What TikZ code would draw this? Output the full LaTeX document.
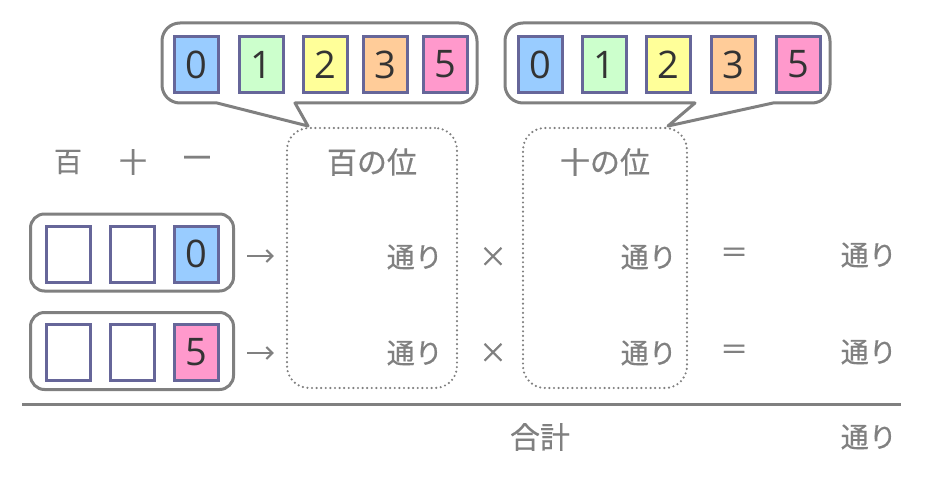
\documentclass[tikz,border=0pt]{standalone}
\usepackage{fontspec}
\newfontfamily\jp[FakeBold=0.6]{Noto Sans CJK JP}
\newfontfamily\dg{Open Sans}
\usetikzlibrary{arrows.meta}
\definecolor{gr}{HTML}{808080}
\definecolor{bd}{HTML}{666699}
\definecolor{cb}{HTML}{99CCFF}
\definecolor{cg}{HTML}{CCFFCC}
\definecolor{cy}{HTML}{FFFF99}
\definecolor{co}{HTML}{FFCC99}
\definecolor{cp}{HTML}{FF99CC}
\definecolor{dk}{HTML}{333333}
\tikzset{
 digbox/.style={draw=bd, line width=3pt, minimum width=44pt, minimum height=56pt, inner sep=0pt, font=\dg\fontsize{38}{38}\selectfont, text=dk},
 bub/.style={draw=gr, line width=3pt, fill=white, line join=round},
 rowbox/.style={draw=gr, line width=3pt, rounded corners=14pt, minimum width=203pt, minimum height=77pt, inner sep=0pt},
 dotbox/.style={draw=gr, line width=2.4pt, dash pattern=on 0pt off 4.6pt, line cap=round, rounded corners=22pt, minimum width=170pt, minimum height=260pt, inner sep=0pt},
 jtxt/.style={text=gr, font=\jp\fontsize{28}{28}\selectfont, inner sep=0pt},
 jbig/.style={jtxt, font=\jp\fontsize{30}{30}\selectfont},
 arr/.style={draw=gr, line width=2pt, -{Straight Barb[length=6pt,width=12pt]}}
}
\begin{document}
\begin{tikzpicture}[x=1pt,y=-1pt]
\useasboundingbox (0,0) rectangle (932,484);
% bubbles
\draw[bub] (295,103) -- (308,126) -- (217,103) -- (180,103)
  arc[start angle=90,end angle=180,radius=18] -- (162,41)
  arc[start angle=180,end angle=270,radius=18] -- (459,23)
  arc[start angle=270,end angle=360,radius=18] -- (477,85)
  arc[start angle=0,end angle=90,radius=18] -- cycle;
\draw[bub] (695,103) -- (668,126) -- (773,103) -- (812,103)
  arc[start angle=90,end angle=0,radius=18] -- (830,41)
  arc[start angle=0,end angle=-90,radius=18] -- (523,23)
  arc[start angle=270,end angle=180,radius=18] -- (505,85)
  arc[start angle=180,end angle=90,radius=18] -- cycle;
% digit squares, bubble 1
\node[digbox,fill=cb] (a0) at (196.5,64.5) {0};
\node[digbox,fill=cg] (a1) at (261,64.5) {1};
\node[digbox,fill=cy] (a2) at (325.5,64.5) {2};
\node[digbox,fill=co] (a3) at (385.5,64.5) {3};
\node[digbox,fill=cp] (a5) at (445.5,64.5) {5};
% bubble 2
\node[digbox,fill=cb] (b0) at (540,64.5) {0};
\node[digbox,fill=cg] (b1) at (604,64.5) {1};
\node[digbox,fill=cy] (b2) at (668,64.5) {2};
\node[digbox,fill=co] (b3) at (733.5,64.5) {3};
\node[digbox,fill=cp] (b5) at (798.5,64.5) {5};
% place headers
\node[jtxt] (h100) at (68,162) {百};
\node[jtxt] (h10) at (133,162) {十};
\node[jtxt] (h1) at (197,162) {一};
% row boxes
\node[rowbox] (r1) at (132,252.5) {};
\node[rowbox] (r2) at (132,351) {};
\node[digbox] (c11) at (68.5,254) {};
\node[digbox] (c12) at (132,254) {};
\node[digbox,fill=cb] (c13) at (196.5,254) {0};
\node[digbox] (c21) at (68.5,352) {};
\node[digbox] (c22) at (132,352) {};
\node[digbox,fill=cp] (c23) at (196.5,352) {5};
% dotted boxes
\node[dotbox] (d1) at (372,258) {};
\node[dotbox,minimum width=164pt] (d2) at (605,258) {};
\node[jbig] (t1) at (372,162) {百の位};
\node[jbig] (t2) at (605,162) {十の位};
% arrows
\draw[arr] ([shift={(12,3.5)}]r1.east) -- ([shift={(-12,3.5)}]d1.west |- r1.east);
\draw[arr] ([shift={(12,2)}]r2.east) -- ([shift={(-12,2)}]d1.west |- r2.east);
% row texts
\node[jtxt,anchor=east] (p1) at (443,257) {通り};
\node[jtxt] (x1) at (493,257) {×};
\node[jtxt,anchor=east] (q1) at (677,257) {通り};
\node[jtxt] (e1) at (734,255) {＝};
\node[jtxt,anchor=east] (s1) at (897,255) {通り};
\node[jtxt,anchor=east] (p2) at (443,353) {通り};
\node[jtxt] (x2) at (493,353) {×};
\node[jtxt,anchor=east] (q2) at (677,353) {通り};
\node[jtxt] (e2) at (734,352) {＝};
\node[jtxt,anchor=east] (s2) at (897,352) {通り};
% total line
\coordinate (L1) at (22,404);
\coordinate (L2) at (901,404);
\draw[gr,line width=3pt] (L1) -- (L2);
\node[jbig] (tot) at (540,437) {合計};
\node[jtxt,anchor=east] (s3) at (897,437) {通り};
\end{tikzpicture}
\end{document}
